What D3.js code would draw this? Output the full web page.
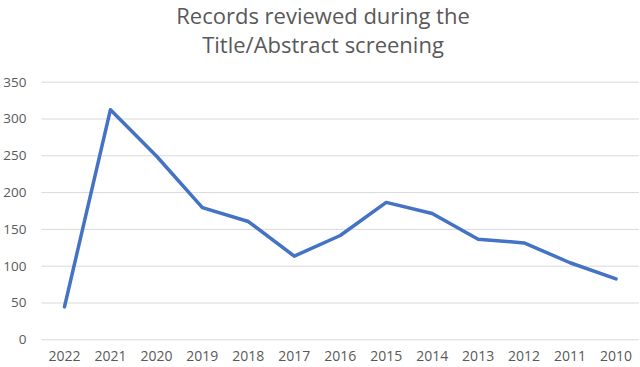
<!DOCTYPE html>
<html><head><meta charset="utf-8">
<script src="https://cdn.jsdelivr.net/npm/d3@7"></script>
<style>html,body{margin:0;padding:0;background:#fff;}</style>
</head><body>
<svg id="c" width="640" height="367"></svg>
<script>
const categories = ["2022","2021","2020","2019","2018","2017","2016","2015","2014","2013","2012","2011","2010"];
const records = [44, 312, 249, 179, 160, 113, 141, 186, 171, 136, 131, 104, 82];
const yTicks = [0, 50, 100, 150, 200, 250, 300, 350];
const titleLines = ["Records reviewed during the", "Title/Abstract screening"];

(function () {
const svg = d3.select("#c");
const font = "'Open Sans', 'Liberation Sans', sans-serif";
const mLeft = 41.5, mRight = 639, mTop = 81.7, mBottom = 339.3;

const x = d3.scaleBand().domain(categories).range([mLeft, mRight]);
const y = d3.scaleLinear().domain([0, 350]).range([mBottom, mTop]);

const yAxis = d3.axisLeft(y).tickValues(yTicks).tickSize(-(mRight - mLeft)).tickPadding(15);
const gy = svg.append("g").attr("transform", `translate(${mLeft},0)`).call(yAxis);
gy.select(".domain").remove();
gy.selectAll(".tick line").attr("stroke", "#d9d9d9").attr("stroke-width", 1);
gy.selectAll(".tick text").attr("fill", "#595959").attr("font-family", font).attr("font-size", 13.5);

const xAxis = d3.axisBottom(x).tickSize(0).tickPadding(12);
const gx = svg.append("g").attr("transform", `translate(0,${mBottom})`).call(xAxis);
gx.select(".domain").remove();
gx.selectAll(".tick text").attr("fill", "#595959").attr("font-family", font).attr("font-size", 14);

const line = d3.line().x((d, i) => x(categories[i]) + x.bandwidth() / 2).y(d => y(d));
svg.append("path").datum(records).attr("d", line)
  .attr("fill", "none").attr("stroke", "#4472C4").attr("stroke-width", 3.5)
  .attr("stroke-linejoin", "round").attr("stroke-linecap", "round");

svg.append("g").selectAll("text").data(titleLines).join("text")
  .attr("x", 323).attr("y", (d, i) => 23.5 + i * 29)
  .attr("text-anchor", "middle").attr("fill", "#595959")
  .attr("font-family", font).attr("font-size", 22).text(d => d);
})();
</script>
</body></html>
